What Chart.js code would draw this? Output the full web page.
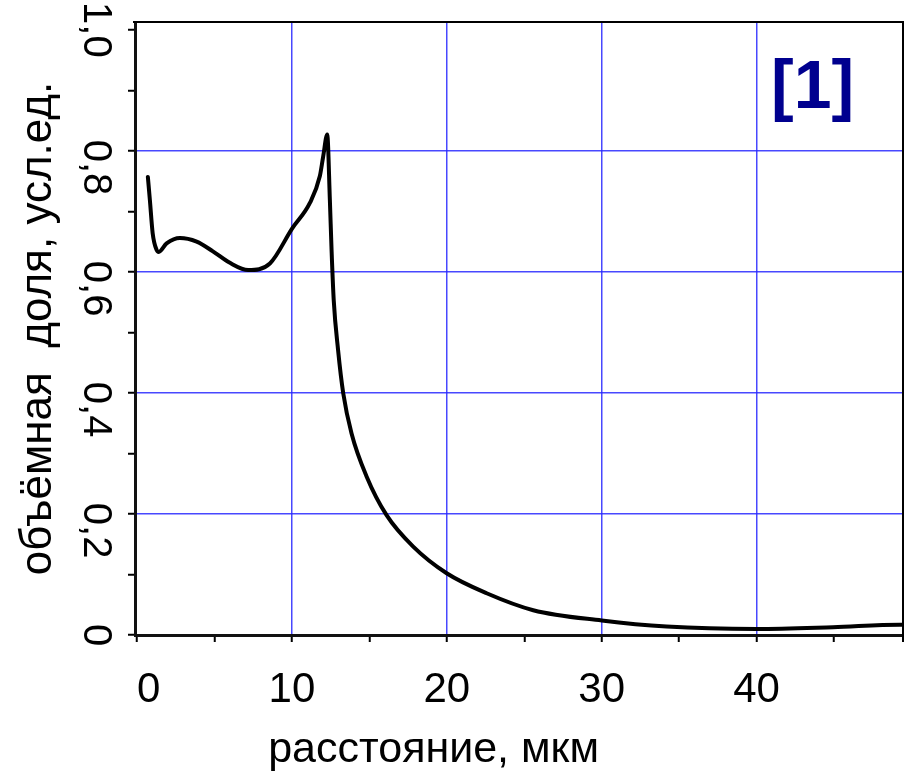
<!DOCTYPE html>
<html>
<head>
<meta charset="utf-8">
<script src="https://cdn.jsdelivr.net/npm/chart.js@4.4.1/dist/chart.umd.min.js"></script>
<style>
  html, body { margin: 0; padding: 0; background: #fff; overflow: hidden; }
  #wrap { width: 905px; height: 778px; }
</style>
</head>
<body>
<div id="wrap"><canvas id="c" width="905" height="778"></canvas></div>
<script>
// Volume fraction profile versus distance
const distance = [0.70, 0.83, 1.01, 1.27, 1.40, 1.91, 2.77, 3.85, 4.90, 6.00, 7.18, 8.58,
                  10.02, 11.16, 11.80, 12.02, 12.28, 12.45, 12.56, 12.70, 12.98, 13.31,
                  13.85, 14.82, 16.11, 17.83, 19.99, 22.57, 25.58, 30.00, 34.19, 40.00,
                  44.93, 49.25, 49.45];
const fraction = [0.757, 0.719, 0.664, 0.636, 0.633, 0.647, 0.656, 0.650, 0.634, 0.615, 0.603, 0.614,
                  0.672, 0.714, 0.758, 0.791, 0.827, 0.719, 0.636, 0.553, 0.471, 0.400,
                  0.333, 0.262, 0.198, 0.146, 0.102, 0.069, 0.041, 0.024, 0.014, 0.010,
                  0.013, 0.017, 0.017];

// Axis ticks and their labels
const xTickValues = [0, 5, 10, 15, 20, 25, 30, 35, 40, 45];
const xLabelValues = [0, 10, 20, 30, 40];
const xLabelTexts = ['0', '10', '20', '30', '40'];
const yTickValues = [0, 0.1, 0.2, 0.3, 0.4, 0.5, 0.6, 0.7, 0.8, 0.9, 1.0];
const yLabelValues = [0, 0.2, 0.4, 0.6, 0.8, 1.0];
const yLabelTexts = ['0', '0,2', '0,4', '0,6', '0,8', '1,0'];

const xTitle = 'расстояние, мкм';
const yTitle = 'объёмная  доля, усл.ед.';
const panelTag = '[1]';

const FONT = "'Liberation Sans', Arial, sans-serif";
const GRID_BLUE = 'rgba(40, 40, 255, 0.85)';

function findIndex(list, v) {
  return list.findIndex(t => Math.abs(t - v) < 1e-6);
}

// Frame on the top and right sides, plus the panel tag
const framePlugin = {
  id: 'frame',
  afterDraw(chart) {
    const { ctx, chartArea: a } = chart;
    ctx.save();
    ctx.strokeStyle = '#000';
    ctx.lineWidth = 2;
    ctx.beginPath();
    ctx.moveTo(a.left - 2, a.top);
    ctx.lineTo(a.right, a.top);
    ctx.lineTo(a.right, a.bottom + 7);
    ctx.stroke();

    ctx.fillStyle = '#00008f';
    ctx.font = `bold 68px ${FONT}`;
    ctx.textAlign = 'left';
    ctx.textBaseline = 'alphabetic';
    ctx.fillText(panelTag, a.right - 132, a.top + 86);
    ctx.restore();
  }
};

new Chart(document.getElementById('c'), {
  type: 'line',
  data: {
    datasets: [{
      data: distance.map((x, i) => ({ x, y: fraction[i] })),
      borderColor: '#000',
      borderWidth: 4,
      pointRadius: 0,
      fill: false,
      cubicInterpolationMode: 'monotone',
      borderCapStyle: 'round',
      borderJoinStyle: 'round'
    }]
  },
  options: {
    responsive: false,
    animation: false,
    devicePixelRatio: 1,
    layout: { padding: { left: 0, right: 2, top: 22, bottom: 0 } },
    plugins: {
      legend: { display: false },
      tooltip: { enabled: false },
      title: {
        display: true,
        position: 'bottom',
        // trailing spaces nudge the caption a little left of the page centre
        text: xTitle + '   ',
        color: '#000',
        font: { family: FONT, size: 43, weight: 'normal' },
        padding: { top: 0, bottom: 2 }
      }
    },
    scales: {
      x: {
        type: 'linear',
        min: -0.13,
        max: 49.45,
        afterBuildTicks(scale) { scale.ticks = xTickValues.map(v => ({ value: v })); },
        afterFit(scale) { scale.height = 89.4; scale.paddingLeft = 0; scale.paddingRight = 0; },
        ticks: {
          autoSkip: false,
          maxRotation: 0,
          minRotation: 0,
          padding: 23,
          color: '#000',
          font: { family: FONT, size: 42 },
          callback(value) {
            const i = findIndex(xLabelValues, value);
            if (i < 0) return '';
            // the zero label sits slightly right of its tick
            return i === 0 ? '  ' + xLabelTexts[i] : xLabelTexts[i];
          }
        },
        grid: {
          color: ctx => (ctx.tick && ctx.tick.value > 0 && ctx.tick.value % 10 === 0) ? GRID_BLUE : 'rgba(0,0,0,0)',
          lineWidth: 1.5,
          drawTicks: true,
          tickLength: 7,
          tickWidth: 2,
          tickColor: '#000'
        },
        border: { display: true, color: '#111', width: 3 }
      },
      y: {
        type: 'linear',
        min: 0,
        max: 1.013,
        afterBuildTicks(scale) { scale.ticks = yTickValues.map(v => ({ value: v })); },
        afterFit(scale) { scale.width = 135; scale.paddingTop = 0; scale.paddingBottom = 0; },
        ticks: {
          autoSkip: false,
          minRotation: -90,
          maxRotation: -90,
          crossAlign: 'center',
          padding: -11.5,
          color: '#000',
          font: { family: FONT, size: 40 },
          callback(value) {
            const i = findIndex(yLabelValues, value);
            if (i < 0) return '';
            // inner labels read a little below their ticks
            return (i > 0 && i < yLabelTexts.length - 1) ? '   ' + yLabelTexts[i] : yLabelTexts[i];
          }
        },
        title: {
          display: true,
          text: yTitle,
          color: '#000',
          font: { family: FONT, size: 44 },
          padding: { top: 12, bottom: 0 }
        },
        grid: {
          color: ctx => {
            if (!ctx.tick) return 'rgba(0,0,0,0)';
            const k = Math.round(ctx.tick.value * 10);
            return (k % 2 === 0 && k >= 2 && k <= 8) ? GRID_BLUE : 'rgba(0,0,0,0)';
          },
          lineWidth: 1.5,
          drawTicks: true,
          tickLength: 7,
          tickWidth: 2,
          tickColor: '#000'
        },
        border: { display: true, color: '#111', width: 3 }
      }
    }
  },
  plugins: [framePlugin]
});
</script>
</body>
</html>
